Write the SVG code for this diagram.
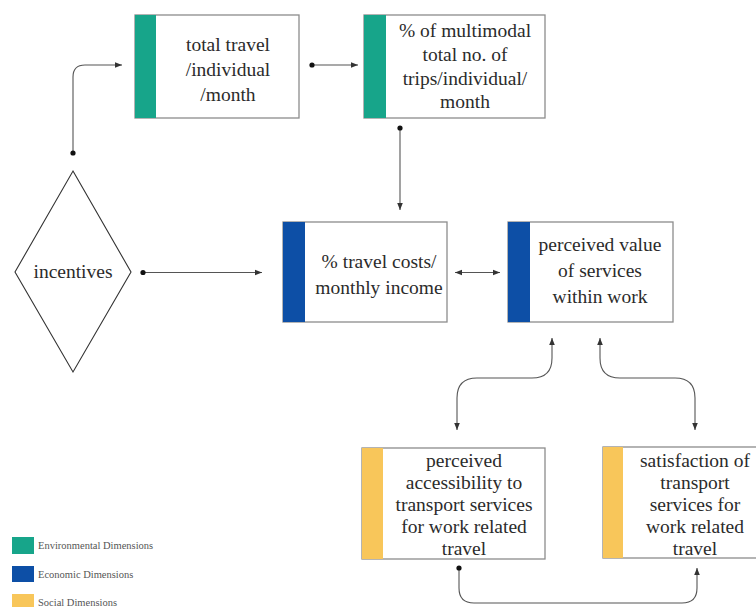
<svg xmlns="http://www.w3.org/2000/svg" width="756" height="607" viewBox="0 0 756 607">
  <defs>
    <marker id="arrow" viewBox="0 0 10 10" refX="10" refY="5" markerWidth="7" markerHeight="7" markerUnits="userSpaceOnUse" orient="auto-start-reverse">
      <path d="M0,1 L10,5 L0,9 z" fill="#333"/>
    </marker>
  </defs>
  <style>
    .box { fill: #ffffff; stroke: #8c8c8c; stroke-width: 1.3; }
    .env { fill: #17a58a; }
    .eco { fill: #0d4fa6; }
    .soc { fill: #f8c65a; }
    .label { font-family: "Liberation Serif", "Times New Roman", serif; font-size: 19.5px; fill: #2b2b2b; text-anchor: middle; }
    .legend { font-family: "Liberation Serif", "Times New Roman", serif; font-size: 10.5px; fill: #555; }
    .conn { fill: none; stroke: #555; stroke-width: 1.1; }
    .dot { fill: #111; }
  </style>
  <rect width="756" height="607" fill="#ffffff"/>

  <!-- connectors -->
  <g id="connectors">
    <path class="conn" d="M73,153 V77 Q73,65 85,65 H122" marker-end="url(#arrow)"/>
    <path class="conn" d="M312,65 H358" marker-end="url(#arrow)"/>
    <path class="conn" d="M400,128 V210" marker-end="url(#arrow)"/>
    <path class="conn" d="M143,272.5 H262" marker-end="url(#arrow)"/>
    <path class="conn" d="M455,272.5 H500" marker-start="url(#arrow)" marker-end="url(#arrow)"/>
    <path class="conn" d="M552,338 V358 Q552,378 532,378 H477 Q457,378 457,398 V430" marker-start="url(#arrow)" marker-end="url(#arrow)"/>
    <path class="conn" d="M600,338 V358 Q600,378 620,378 H675 Q695,378 695,398 V430" marker-start="url(#arrow)" marker-end="url(#arrow)"/>
    <path class="conn" d="M459,568 V588 Q459,603 474,603 H682 Q697,603 697,588 V568" marker-end="url(#arrow)"/>
    <circle class="dot" cx="73" cy="153" r="2.6"/>
    <circle class="dot" cx="312" cy="65" r="2.6"/>
    <circle class="dot" cx="400" cy="128" r="2.6"/>
    <circle class="dot" cx="143" cy="272.5" r="2.6"/>
    <circle class="dot" cx="459" cy="568" r="2.6"/>
  </g>

  <!-- nodes -->
  <g id="incentives">
    <polygon points="73,171 131,272 73,372 15,272" fill="#ffffff" stroke="#333" stroke-width="1.1"/>
    <text class="label" x="73" y="278">incentives</text>
  </g>

  <g id="total-travel">
    <rect class="box" x="135" y="15" width="164" height="103"/>
    <rect class="env" x="135" y="15" width="21" height="103"/>
    <text class="label" x="228" y="51">total travel</text>
    <text class="label" x="228" y="76">/individual</text>
    <text class="label" x="228" y="101">/month</text>
  </g>

  <g id="multimodal-trips">
    <rect class="box" x="364" y="15" width="181" height="103"/>
    <rect class="env" x="364" y="15" width="22" height="103"/>
    <text class="label" x="465" y="37">% of multimodal</text>
    <text class="label" x="465" y="61">total no. of</text>
    <text class="label" x="465" y="85">trips/individual/</text>
    <text class="label" x="465" y="108">month</text>
  </g>

  <g id="travel-costs">
    <rect class="box" x="283" y="222" width="164" height="100"/>
    <rect class="eco" x="283" y="222" width="22" height="100"/>
    <text class="label" x="379" y="268">% travel costs/</text>
    <text class="label" x="379" y="294">monthly income</text>
  </g>

  <g id="perceived-value">
    <rect class="box" x="508" y="222" width="165" height="100"/>
    <rect class="eco" x="508" y="222" width="22" height="100"/>
    <text class="label" x="600" y="251">perceived value</text>
    <text class="label" x="600" y="277">of services</text>
    <text class="label" x="600" y="303">within work</text>
  </g>

  <g id="perceived-accessibility">
    <rect class="box" x="362" y="448" width="183" height="111"/>
    <rect class="soc" x="362" y="448" width="21" height="111"/>
    <text class="label" x="464" y="467">perceived</text>
    <text class="label" x="464" y="489">accessibility to</text>
    <text class="label" x="464" y="511">transport services</text>
    <text class="label" x="464" y="533">for work related</text>
    <text class="label" x="464" y="555">travel</text>
  </g>

  <g id="transport-satisfaction">
    <rect class="box" x="603" y="447" width="160" height="111"/>
    <rect class="soc" x="603" y="447" width="20" height="111"/>
    <text class="label" x="695" y="467">satisfaction of</text>
    <text class="label" x="695" y="489">transport</text>
    <text class="label" x="695" y="511">services for</text>
    <text class="label" x="695" y="533">work related</text>
    <text class="label" x="695" y="555">travel</text>
  </g>

  <!-- legend -->
  <g id="legend">
    <rect class="env" x="12" y="537" width="22" height="17"/>
    <text class="legend" x="38" y="549">Environmental Dimensions</text>
    <rect class="eco" x="12" y="566" width="22" height="16"/>
    <text class="legend" x="38" y="578">Economic Dimensions</text>
    <rect class="soc" x="12" y="594" width="22" height="16"/>
    <text class="legend" x="38" y="606">Social Dimensions</text>
  </g>
</svg>
